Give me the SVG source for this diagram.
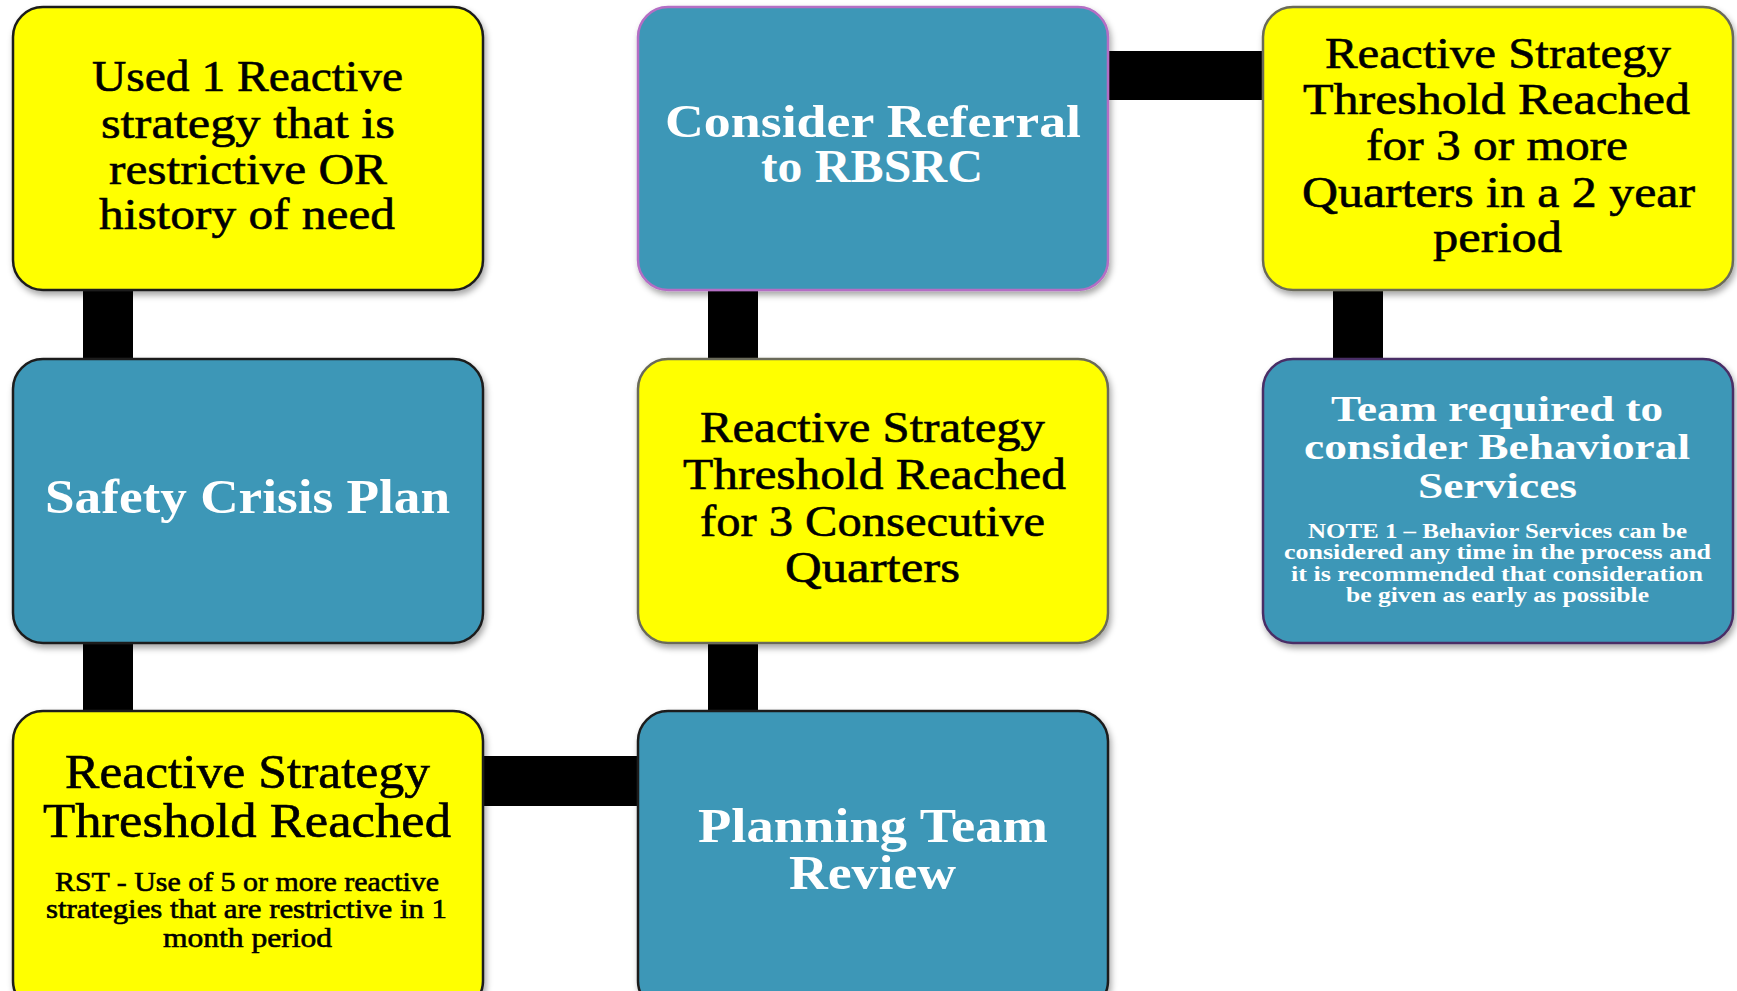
<svg xmlns="http://www.w3.org/2000/svg" width="1737" height="991" viewBox="0 0 1737 991">
  <defs>
    <filter id="shadow" x="-5%" y="-5%" width="112%" height="115%">
      <feDropShadow dx="2" dy="4" stdDeviation="3" flood-color="#000" flood-opacity="0.35"/>
    </filter>
    <style>
      .box { stroke-width: 2.5; filter: url(#shadow); }
      .yellow { fill: #ffff00; }
      .teal { fill: #3e97b7; }
      .dark { stroke: #1e1e1e; }
      .grey { stroke: #6b6b5a; }
      .violet { stroke: #b46ec4; }
      .plum { stroke: #4a2f66; }
      .link { fill: #000; }
      .t { font-family: "Liberation Serif", "Times New Roman", serif; }
      .dk { fill: #000; stroke: #000; stroke-width: 0.6; }
      .wh { fill: #fff; font-weight: bold; }
    </style>
  </defs>

  <!-- connectors -->
  <g id="connectors">
    <rect class="link" x="83" y="285" width="50" height="80"/>
    <rect class="link" x="83" y="638" width="50" height="78"/>
    <rect class="link" x="478" y="756" width="165" height="50"/>
    <rect class="link" x="708" y="638" width="50" height="78"/>
    <rect class="link" x="708" y="285" width="50" height="80"/>
    <rect class="link" x="1103" y="51" width="165" height="49"/>
    <rect class="link" x="1333" y="285" width="50" height="80"/>
  </g>

  <g id="node-used-one">
    <rect class="box yellow dark" x="13" y="7" width="470" height="283" rx="30"/>
    <text class="t dk" font-size="45">
      <tspan x="92" y="91" textLength="311" lengthAdjust="spacingAndGlyphs">Used 1 Reactive</tspan>
      <tspan x="101" y="138" textLength="294" lengthAdjust="spacingAndGlyphs">strategy that is</tspan>
      <tspan x="109" y="184" textLength="278" lengthAdjust="spacingAndGlyphs">restrictive OR</tspan>
      <tspan x="99" y="229" textLength="296" lengthAdjust="spacingAndGlyphs">history of need</tspan>
    </text>
  </g>

  <g id="node-referral">
    <rect class="box teal violet" x="638" y="7" width="470" height="283" rx="30"/>
    <text class="t wh" font-size="46">
      <tspan x="665" y="137" textLength="416" lengthAdjust="spacingAndGlyphs">Consider Referral</tspan>
      <tspan x="761" y="182" textLength="222" lengthAdjust="spacingAndGlyphs">to RBSRC</tspan>
    </text>
  </g>

  <g id="node-two-year">
    <rect class="box yellow grey" x="1263" y="7" width="470" height="283" rx="30"/>
    <text class="t dk" font-size="45">
      <tspan x="1325" y="68" textLength="346" lengthAdjust="spacingAndGlyphs">Reactive Strategy</tspan>
      <tspan x="1303" y="114" textLength="387" lengthAdjust="spacingAndGlyphs">Threshold Reached</tspan>
      <tspan x="1366" y="160" textLength="262" lengthAdjust="spacingAndGlyphs">for 3 or more</tspan>
      <tspan x="1302" y="207" textLength="393" lengthAdjust="spacingAndGlyphs">Quarters in a 2 year</tspan>
      <tspan x="1433" y="252" textLength="129" lengthAdjust="spacingAndGlyphs">period</tspan>
    </text>
  </g>

  <g id="node-safety">
    <rect class="box teal dark" x="13" y="359" width="470" height="284" rx="30"/>
    <text class="t wh" font-size="48" x="45" y="513" textLength="405" lengthAdjust="spacingAndGlyphs">Safety Crisis Plan</text>
  </g>

  <g id="node-consecutive">
    <rect class="box yellow grey" x="638" y="359" width="470" height="284" rx="30"/>
    <text class="t dk" font-size="45">
      <tspan x="700" y="442" textLength="345" lengthAdjust="spacingAndGlyphs">Reactive Strategy</tspan>
      <tspan x="683" y="489" textLength="383" lengthAdjust="spacingAndGlyphs">Threshold Reached</tspan>
      <tspan x="700" y="536" textLength="345" lengthAdjust="spacingAndGlyphs">for 3 Consecutive</tspan>
      <tspan x="785" y="582" textLength="175" lengthAdjust="spacingAndGlyphs">Quarters</tspan>
    </text>
  </g>

  <g id="node-behavioral">
    <rect class="box teal plum" x="1263" y="359" width="470" height="284" rx="30"/>
    <text class="t wh" font-size="36">
      <tspan x="1331" y="421" textLength="332" lengthAdjust="spacingAndGlyphs">Team required to</tspan>
      <tspan x="1304" y="459" textLength="386" lengthAdjust="spacingAndGlyphs">consider Behavioral</tspan>
      <tspan x="1418" y="498" textLength="159" lengthAdjust="spacingAndGlyphs">Services</tspan>
    </text>
    <text class="t wh" font-size="21">
      <tspan x="1308" y="538" textLength="379" lengthAdjust="spacingAndGlyphs">NOTE 1 – Behavior Services can be</tspan>
      <tspan x="1284" y="559" textLength="427" lengthAdjust="spacingAndGlyphs">considered any time in the process and</tspan>
      <tspan x="1291" y="581" textLength="412" lengthAdjust="spacingAndGlyphs">it is recommended that consideration</tspan>
      <tspan x="1346" y="602" textLength="303" lengthAdjust="spacingAndGlyphs">be given as early as possible</tspan>
    </text>
  </g>

  <g id="node-rst">
    <rect class="box yellow dark" x="13" y="711" width="470" height="300" rx="30"/>
    <text class="t dk" font-size="49">
      <tspan x="65" y="788" textLength="365" lengthAdjust="spacingAndGlyphs">Reactive Strategy</tspan>
      <tspan x="43" y="837" textLength="408" lengthAdjust="spacingAndGlyphs">Threshold Reached</tspan>
    </text>
    <text class="t dk" font-size="27" stroke-width="0.4">
      <tspan x="55" y="891" textLength="384" lengthAdjust="spacingAndGlyphs">RST - Use of 5 or more reactive</tspan>
      <tspan x="46" y="918" textLength="401" lengthAdjust="spacingAndGlyphs">strategies that are restrictive in 1</tspan>
      <tspan x="163" y="947" textLength="169" lengthAdjust="spacingAndGlyphs">month period</tspan>
    </text>
  </g>

  <g id="node-review">
    <rect class="box teal dark" x="638" y="711" width="470" height="300" rx="30"/>
    <text class="t wh" font-size="48">
      <tspan x="698" y="842" textLength="350" lengthAdjust="spacingAndGlyphs">Planning Team</tspan>
      <tspan x="789" y="889" textLength="167" lengthAdjust="spacingAndGlyphs">Review</tspan>
    </text>
  </g>
</svg>
